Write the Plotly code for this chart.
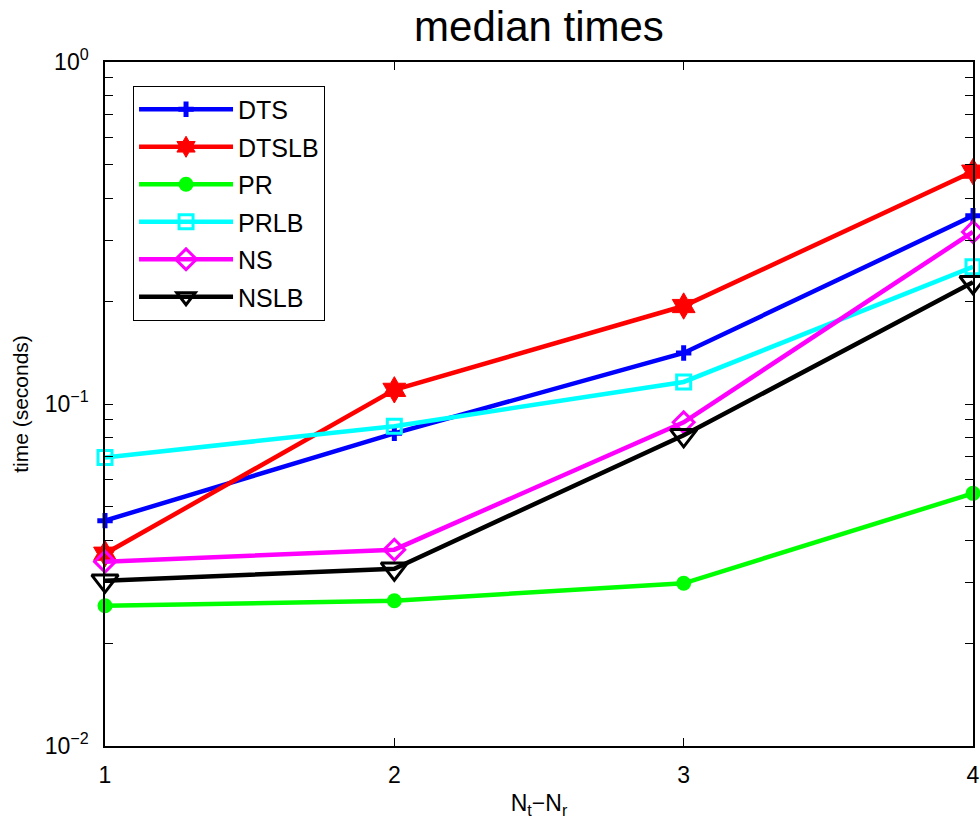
import plotly.graph_objects as go

# Median run times (seconds) for each method versus Nt - Nr
nt_minus_nr = [1, 2, 3, 4]
dts = [0.0456, 0.0821, 0.141, 0.355]
dtslb = [0.0365, 0.110, 0.1934, 0.478]
pr = [0.0257, 0.0266, 0.0299, 0.0548]
prlb = [0.0698, 0.0861, 0.116, 0.252]
ns = [0.0346, 0.0375, 0.0884, 0.3186]
nslb = [0.0304, 0.0330, 0.0810, 0.227]

# Log-axis ticks: labelled decades plus unlabelled 2..9 minor ticks
decades = [0.01, 0.1, 1.0]
decade_labels = ["10<sup>\u22122</sup>", "10<sup>\u22121</sup>", "10<sup>0</sup>"]
minor_vals = [d * k for d in decades[:-1] for k in range(2, 10)]

series = [
    ("DTS", dts, "#0000ff", dict(symbol="cross-thin-open", size=11, line=dict(width=5, color="#0000ff"))),
    ("DTSLB", dtslb, "#ff0000", dict(symbol="hexagram", size=20, color="#ff0000", line=dict(width=1, color="#ff0000"))),
    ("PR", pr, "#00ff00", dict(symbol="circle", size=15, color="#00ff00", line=dict(width=0))),
    ("PRLB", prlb, "#00ffff", dict(symbol="square-open", size=14, line=dict(width=3, color="#00ffff"))),
    ("NS", ns, "#ff00ff", dict(symbol="diamond-open", size=16, line=dict(width=3, color="#ff00ff"))),
    ("NSLB", nslb, "#000000", dict(symbol="triangle-down-open", size=23, line=dict(width=3, color="#000000"))),
]

fig = go.Figure()
for name, vals, color, marker in series:
    fig.add_trace(go.Scatter(
        x=nt_minus_nr, y=vals, name=name, mode="lines+markers",
        line=dict(color=color, width=4.5), marker=marker,
        legendgroup=name, cliponaxis=False,
    ))

font_family = "Arial, Liberation Sans, Helvetica, sans-serif"
tick_font = dict(family=font_family, size=23, color="black")
fig.update_layout(
    width=980, height=825,
    margin=dict(l=105, r=7, t=62, b=79, autoexpand=False),
    paper_bgcolor="white", plot_bgcolor="white",
    font=dict(family=font_family, color="black", size=23),
    title=dict(text="median times", x=0.5, xanchor="center", xref="paper",
               y=1 - 26 / 825, yref="container", yanchor="middle",
               font=dict(size=42)),
    legend=dict(x=0.0323, y=0.9656, xanchor="left", yanchor="top",
                bgcolor="white", bordercolor="black", borderwidth=1,
                font=dict(size=25), itemwidth=94, traceorder="grouped",
                tracegroupgap=2),
    xaxis=dict(range=[1, 4], tickvals=nt_minus_nr, ticks="inside", ticklen=8,
               tickwidth=1, tickcolor="black", showline=True, linecolor="black",
               linewidth=1.5, mirror="ticks", showgrid=False, zeroline=False,
               ticklabelstandoff=8, tickfont=tick_font, automargin=False,
               title=dict(text="N<sub>t</sub>\u2212N<sub>r</sub>", standoff=8,
                          font=dict(size=23))),
    yaxis=dict(type="log", range=[-2, 0], tickvals=decades, ticktext=decade_labels,
               ticks="inside", ticklen=8, tickwidth=1, tickcolor="black",
               minor=dict(tickvals=minor_vals, ticks="inside", ticklen=8,
                          tickwidth=1, tickcolor="black", showgrid=False),
               showline=True, linecolor="black", linewidth=1.5, mirror="ticks",
               showgrid=False, zeroline=False, ticklabelstandoff=10,
               tickfont=tick_font, automargin=False,
               title=dict(text="time (seconds)", standoff=10, font=dict(size=21))),
)

fig.write_html("out.html")
